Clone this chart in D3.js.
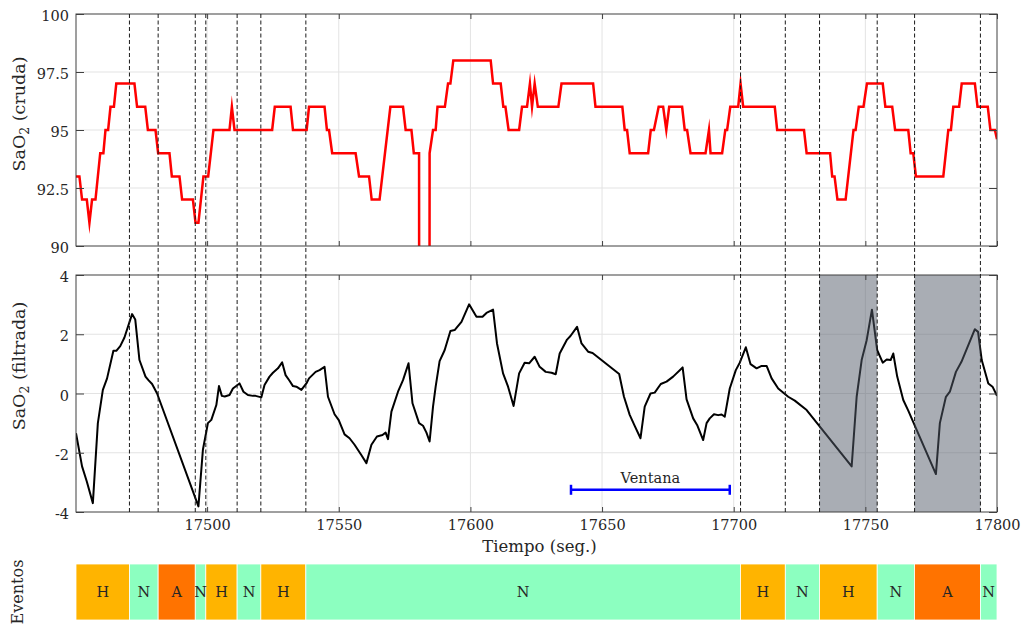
<!DOCTYPE html>
<html>
<head>
<meta charset="utf-8">
<script src="https://cdn.jsdelivr.net/npm/d3@7/dist/d3.min.js"></script>
<style>
  html, body { margin: 0; padding: 0; background: #fff; }
  svg { display: block; }
  text { font-family: "DejaVu Serif", "Liberation Serif", serif; fill: #262626; }
</style>
</head>
<body>
<svg id="chart" width="1021" height="624"></svg>
<script>
// ---- data -------------------------------------------------------------
// raw SaO2 trace (time in s, value in %)
const rawTime = [17450.2,17451.5,17452.5,17454.3,17455.3,17456.3,17457.6,17459.4,17460.6,17461.4,17462.4,17463.3,17464.6,17465.5,17472.4,17473.4,17476.5,17477.5,17480.4,17481.4,17485.7,17486.6,17489.5,17490.5,17494.6,17495.6,17496.7,17498.6,17500.4,17502.4,17508.5,17509.4,17510.4,17524.7,17525.7,17531.7,17532.6,17537.8,17538.7,17544.6,17545.5,17546.3,17547.5,17556.4,17557.7,17561.5,17562.5,17565.5,17569.6,17574.4,17575.4,17577.6,17578.5,17580.5,17581.0,17584.0,17584.5,17585.8,17586.8,17587.5,17590.3,17591.5,17592.4,17593.5,17607.7,17608.6,17611.5,17612.5,17613.3,17614.5,17618.5,17619.6,17621.5,17622.6,17623.4,17624.4,17625.6,17633.4,17634.6,17646.6,17647.5,17657.7,17658.6,17659.5,17660.5,17667.5,17668.5,17669.7,17671.5,17673.2,17674.4,17675.5,17680.4,17681.4,17682.3,17683.6,17689.3,17690.6,17691.2,17695.6,17696.8,17697.5,17698.7,17701.7,17702.6,17703.6,17715.6,17716.5,17726.7,17727.7,17736.6,17737.4,17738.3,17739.4,17742.5,17745.5,17746.3,17747.5,17749.3,17750.6,17756.6,17757.6,17760.2,17761.3,17766.3,17767.2,17768.2,17769.2,17779.6,17781.5,17782.5,17783.4,17785.6,17786.6,17791.6,17792.6,17796.5,17797.5,17799.2,17800];
const rawSaO2 = [93,93,92,92,91,92,92,94,94,95,95,96,96,97,97,96,96,95,95,94,94,93,93,92,92,91,91,93,93,95,95,96,95,95,96,96,95,95,96,96,95,95,94,94,93,93,92,92,96,96,95,95,94,94,0,0,94,95,95,96,96,97,97,98,98,97,97,96,96,95,95,96,96,97,96,97,96,96,97,97,96,96,95,95,94,94,95,95,96,96,95,96,96,95,95,94,94,95,94,94,95,95,96,96,97,96,96,95,95,94,94,93,93,92,92,95,95,96,96,97,97,96,96,95,95,94,94,93,93,95,95,96,96,97,97,96,96,95,95,94.6];

// filtered SaO2 trace
const filtTime = [17450.2,17452.5,17454.3,17456.6,17458.5,17460.4,17462,17464.4,17465.5,17467,17468.6,17471.5,17472.7,17474.3,17476.6,17477.7,17479.1,17481,17496.7,17498.4,17500.3,17501.6,17503.5,17504.5,17505.6,17506.7,17508.5,17509.8,17512.3,17513.8,17515.5,17517.4,17518.4,17520.6,17521.8,17523.7,17525,17526.9,17528.5,17529.8,17531.3,17532.6,17533.9,17535.8,17537.7,17538.7,17541.2,17542.7,17544.6,17545.9,17548.4,17550,17552.2,17554.1,17556,17558.5,17560.5,17562.4,17564.5,17566.6,17567.8,17568.7,17570,17572.5,17574.4,17576.5,17578,17580.5,17582,17583.3,17584.5,17585.8,17586.8,17588.3,17590.2,17592.4,17594,17596.6,17599.5,17602.3,17604.6,17606.1,17608.6,17610.1,17612.4,17614.3,17616.4,17618.5,17620.6,17622.3,17624.4,17626.3,17628.6,17630.8,17632.4,17633.9,17636.7,17638,17640.5,17642.2,17644.7,17646.4,17656.5,17658.3,17660.5,17662.4,17664.6,17666.2,17668.4,17670,17672.3,17674.5,17677,17680.6,17682.1,17684.6,17686.1,17688.4,17689.7,17690.9,17692.5,17694.1,17695.4,17696.6,17698.5,17700.8,17702.3,17704.6,17706.4,17708.7,17710.6,17712.5,17714.4,17716.9,17720.7,17723.2,17727.7,17744.8,17746.7,17748.6,17750.5,17752.5,17754.5,17756.6,17758.1,17759.6,17760.6,17762.1,17764.4,17766.3,17776.8,17778.3,17780.6,17782.1,17784.4,17786.5,17791.6,17792.8,17794.2,17796.7,17798.3,17800];
const filtSaO2 = [-1.34,-2.46,-2.97,-3.70,-1.0,0.12,0.51,1.44,1.44,1.6,1.89,2.68,2.5,1.13,0.57,0.45,0.32,0.0,-3.81,-1.9,-1.0,-0.89,-0.39,0.25,-0.08,-0.1,-0.05,0.17,0.34,0.06,-0.05,-0.08,-0.08,-0.13,0.29,0.57,0.7,0.85,1.05,0.62,0.43,0.25,0.23,0.12,0.34,0.51,0.73,0.79,0.9,-0.11,-0.7,-0.9,-1.38,-1.51,-1.73,-2.07,-2.35,-1.73,-1.45,-1.40,-1.32,-1.54,-0.61,0.06,0.45,1.02,-0.33,-1.0,-1.09,-1.32,-1.62,-0.44,0.23,1.09,1.46,2.11,2.14,2.42,3.01,2.59,2.59,2.72,2.83,1.69,0.68,0.23,-0.42,0.68,1.04,1.02,1.24,0.9,0.73,0.70,0.65,1.35,1.82,1.94,2.25,1.69,1.41,1.37,0.66,-0.1,-0.72,-1.09,-1.51,-0.44,0.0,0.03,0.32,0.4,0.57,0.88,-0.2,-0.84,-1.06,-1.57,-1.0,-0.84,-0.7,-0.73,-0.71,-0.78,0.17,0.79,1.04,1.56,0.99,0.85,0.93,0.93,0.51,0.17,-0.11,-0.24,-0.56,-2.46,-0.11,1.13,1.80,2.83,1.46,1.04,1.15,1.13,1.35,0.57,-0.22,-0.58,-2.72,-1.0,-0.11,0.06,0.73,1.07,2.17,2.08,1.13,0.34,0.23,-0.08];

// event segmentation: boundaries and labels
const eventBounds = [17450.2,17470.5,17481.4,17495.5,17499.5,17511.4,17520.4,17537.5,17702.6,17719.6,17732.6,17754.5,17768.7,17793.7,17800];
const eventLabels = ["H","N","A","N","H","N","H","N","H","N","H","N","A","N"];
const eventColors = { H: "#FFB400", N: "#8CFFC0", A: "#FF7300" };

// highlighted intervals in the filtered panel
const shadedStart = [17732.6, 17768.7];
const shadedEnd   = [17754.5, 17793.7];

// analysis window
const windowStart = 17638.2;
const windowEnd = 17698.5;
const windowLevel = -3.25;
const windowLabel = "Ventana";

// axes ticks
const xTicks = [17500, 17550, 17600, 17650, 17700, 17750, 17800];
const rawTicks = [90, 92.5, 95, 97.5, 100];
const filtTicks = [-4, -2, 0, 2, 4];

// ---- layout -----------------------------------------------------------
const L = 76, R = 997;
const top1 = 14, bot1 = 246;
const top2 = 275, bot2 = 512;
const top3 = 564, bot3 = 620;

const svg = d3.select("#chart");

const x = d3.scaleLinear().domain([17450.2, 17800]).range([L, R]);
const y1 = d3.scaleLinear().domain([90, 100]).range([bot1, top1]);
const y2 = d3.scaleLinear().domain([-4, 4]).range([bot2, top2]);

const gridColor = "#e3e3e3";
const axisColor = "#404040";

function panel(yScale, yTicks, y0, y1p, clipId) {
  const g = svg.append("g");
  g.append("g").selectAll("line").data(xTicks.slice(0, -1)).join("line")
    .attr("x1", d => x(d)).attr("x2", d => x(d))
    .attr("y1", y1p).attr("y2", y0)
    .attr("stroke", gridColor).attr("stroke-width", 1);
  g.append("g").selectAll("line").data(yTicks.slice(1, -1)).join("line")
    .attr("x1", L).attr("x2", R)
    .attr("y1", d => yScale(d)).attr("y2", d => yScale(d))
    .attr("stroke", gridColor).attr("stroke-width", 1);
  svg.append("clipPath").attr("id", clipId).append("rect")
    .attr("x", L).attr("y", y1p).attr("width", R - L).attr("height", y0 - y1p);
  return g;
}

function frame(yScale, yTicks, y0, y1p, fmt, showX) {
  const g = svg.append("g");
  const left = g.append("g").attr("transform", `translate(${L},0)`)
    .call(d3.axisLeft(yScale).tickValues(yTicks).tickSize(-8).tickPadding(7).tickFormat(fmt));
  left.select(".domain").remove();
  left.selectAll("text").attr("font-size", 14.5).attr("fill", "#262626").attr("dy", "0.45em");
  left.selectAll("line").attr("stroke", axisColor);
  const right = g.append("g").attr("transform", `translate(${R},0)`)
    .call(d3.axisRight(yScale).tickValues(yTicks).tickSize(-8).tickFormat(""));
  right.select(".domain").remove();
  right.selectAll("line").attr("stroke", axisColor);
  const bottom = g.append("g").attr("transform", `translate(0,${y0})`)
    .call(d3.axisBottom(x).tickValues(xTicks).tickSize(-5).tickPadding(8)
      .tickFormat(showX ? d3.format("d") : ""));
  bottom.select(".domain").remove();
  bottom.selectAll("text").attr("font-size", 14.5).attr("fill", "#262626");
  bottom.selectAll("line").attr("stroke", axisColor);
  const topA = g.append("g").attr("transform", `translate(0,${y1p})`)
    .call(d3.axisTop(x).tickValues(xTicks).tickSize(-5).tickFormat(""));
  topA.select(".domain").remove();
  topA.selectAll("line").attr("stroke", axisColor);
  g.append("rect").attr("x", L).attr("y", y1p).attr("width", R - L).attr("height", y0 - y1p)
    .attr("fill", "none").attr("stroke", axisColor).attr("stroke-width", 1);
}

// ---- top panel: raw SaO2 ----------------------------------------------
panel(y1, rawTicks, bot1, top1, "clipRaw");
const rawPts = rawTime.map((t, i) => [t, rawSaO2[i]]);
svg.append("path")
  .attr("clip-path", "url(#clipRaw)")
  .attr("d", d3.line().x(d => x(d[0])).y(d => y1(d[1]))(rawPts))
  .attr("fill", "none").attr("stroke", "#ff0000").attr("stroke-width", 2.5)
  .attr("stroke-linejoin", "miter").attr("stroke-miterlimit", 12);
frame(y1, rawTicks, bot1, top1, d => (d % 1 === 0 ? d3.format("d")(d) : d3.format(".1f")(d)), false);

// ---- bottom panel: filtered SaO2 --------------------------------------
panel(y2, filtTicks, bot2, top2, "clipFilt");
const filtPts = filtTime.map((t, i) => [t, filtSaO2[i]]);
svg.append("path")
  .attr("clip-path", "url(#clipFilt)")
  .attr("d", d3.line().x(d => x(d[0])).y(d => y2(d[1]))(filtPts))
  .attr("fill", "none").attr("stroke", "#000").attr("stroke-width", 2)
  .attr("stroke-linejoin", "round");

// shaded intervals
svg.append("g").selectAll("rect").data(shadedStart).join("rect")
  .attr("x", d => x(d)).attr("y", top2)
  .attr("width", (d, i) => x(shadedEnd[i]) - x(d)).attr("height", bot2 - top2)
  .attr("fill", "rgb(83,91,105)").attr("fill-opacity", 0.5);

// analysis window marker
const wg = svg.append("g");
const wy = y2(windowLevel);
wg.append("line").attr("x1", x(windowStart)).attr("x2", x(windowEnd)).attr("y1", wy).attr("y2", wy)
  .attr("stroke", "#0000ff").attr("stroke-width", 2.5);
wg.selectAll("line.cap").data([windowStart, windowEnd]).join("line").attr("class", "cap")
  .attr("x1", d => x(d)).attr("x2", d => x(d)).attr("y1", wy - 5).attr("y2", wy + 5)
  .attr("stroke", "#0000ff").attr("stroke-width", 2.5);
wg.append("text").attr("x", x((windowStart + windowEnd) / 2)).attr("y", wy - 7)
  .attr("text-anchor", "middle").attr("font-size", 14.5).text(windowLabel);

frame(y2, filtTicks, bot2, top2, d => (d < 0 ? "-" + Math.abs(d) : String(d)), true);

// event boundary markers spanning both panels
svg.append("g").selectAll("line").data(eventBounds.slice(1, -1)).join("line")
  .attr("x1", d => x(d)).attr("x2", d => x(d))
  .attr("y1", top1).attr("y2", bot2)
  .attr("stroke", "#1a1a1a").attr("stroke-width", 1).attr("stroke-dasharray", "4,2.5");

// ---- event bar --------------------------------------------------------
const eg = svg.append("g");
const segs = eventLabels.map((lab, i) => ({ lab, a: eventBounds[i], b: eventBounds[i + 1] }));
eg.selectAll("rect").data(segs).join("rect")
  .attr("x", d => x(d.a)).attr("y", top3)
  .attr("width", d => x(d.b) - x(d.a)).attr("height", bot3 - top3)
  .attr("fill", d => eventColors[d.lab])
  .attr("stroke", "#fff").attr("stroke-width", 0.8);
eg.selectAll("text").data(segs).join("text")
  .attr("x", d => (x(d.a) + x(d.b)) / 2).attr("y", (top3 + bot3) / 2)
  .attr("dy", "0.36em").attr("text-anchor", "middle").attr("font-size", 14.5)
  .attr("fill", "#222").text(d => d.lab);

// ---- axis titles ------------------------------------------------------
svg.append("text").attr("x", (L + R) / 2 + 3).attr("y", 552).attr("text-anchor", "middle")
  .attr("font-size", 16.5).text("Tiempo (seg.)");

function yTitle(cx, cy, tail) {
  const t = svg.append("text").attr("transform", `translate(${cx},${cy}) rotate(-90)`)
    .attr("text-anchor", "middle").attr("font-size", 17.5);
  t.append("tspan").text("SaO");
  t.append("tspan").attr("font-size", 12.5).attr("dy", 4).text("2");
  t.append("tspan").attr("dy", -4).text(" " + tail);
}
yTitle(25, 114, "(cruda)");
yTitle(25, 366, "(filtrada)");

svg.append("text").attr("transform", `translate(23,592) rotate(-90)`)
  .attr("text-anchor", "middle").attr("font-size", 16).text("Eventos");
</script>
</body>
</html>
